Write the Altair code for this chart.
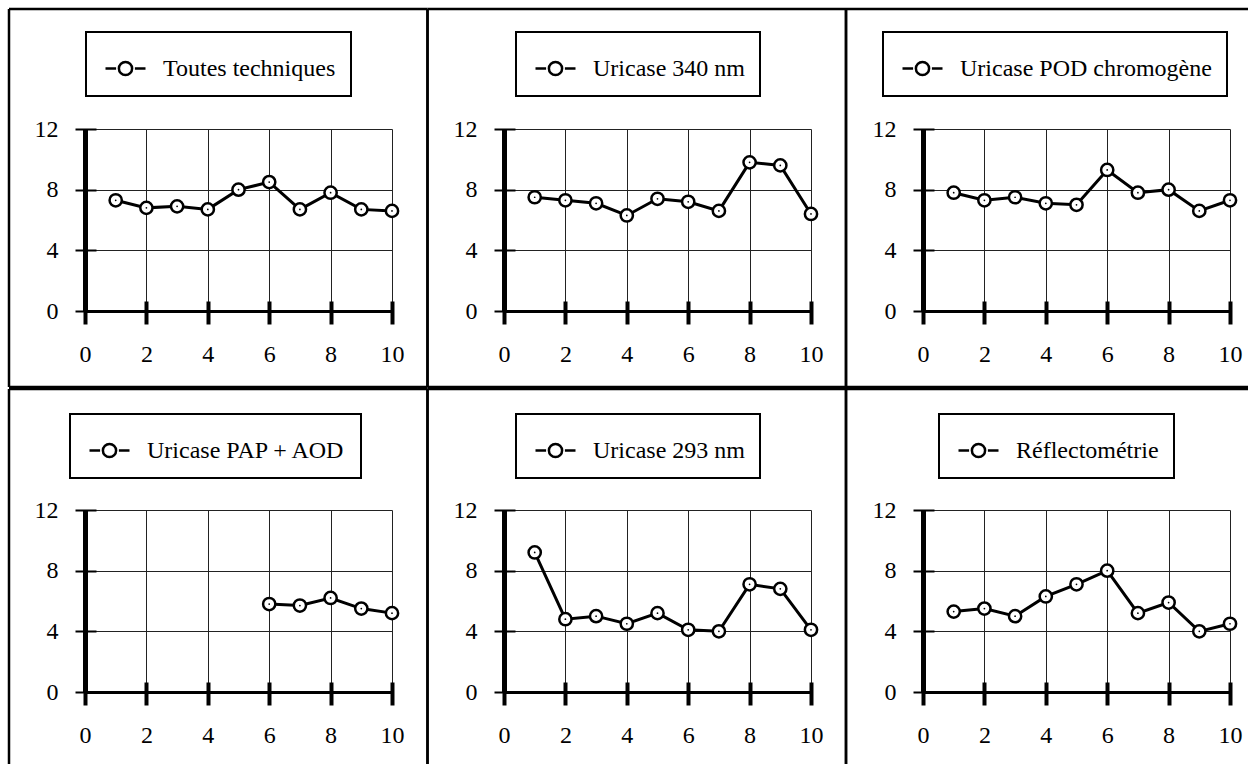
import altair as alt
import pandas as pd

# ---- data ----
x_full = [1, 2, 3, 4, 5, 6, 7, 8, 9, 10]
x_pap = [6, 7, 8, 9, 10]

names = ["Toutes techniques", "Uricase 340 nm", "Uricase POD chromogène",
         "Uricase PAP + AOD", "Uricase 293 nm", "Réflectométrie"]

toutes = [7.3, 6.8, 6.9, 6.7, 8.0, 8.5, 6.7, 7.8, 6.7, 6.6]
u340 = [7.5, 7.3, 7.1, 6.3, 7.4, 7.2, 6.6, 9.8, 9.6, 6.4]
pod = [7.8, 7.3, 7.5, 7.1, 7.0, 9.3, 7.8, 8.0, 6.6, 7.3]
pap = [5.8, 5.7, 6.2, 5.5, 5.2]
u293 = [9.2, 4.8, 5.0, 4.5, 5.2, 4.1, 4.0, 7.1, 6.8, 4.1]
refl = [5.3, 5.5, 5.0, 6.3, 7.1, 8.0, 5.2, 5.9, 4.0, 4.5]

x_ticks = [0, 2, 4, 6, 8, 10]
y_ticks = [0, 4, 8, 12]

FONT = "Liberation Serif"
FS = 24
W, H = 307, 182

LEG_PATH = ("M-1,0L-0.47,0M0.47,0L1,0"
            "M0.33,0A0.33,0.33,0,1,1,-0.33,0A0.33,0.33,0,1,1,0.33,0Z")

ONE = pd.DataFrame({"k": [0]})


def frame_rules(xl, xr, yt, yb, right_edge):
    segs = []
    common = dict(color="black", strokeWidth=2.5)
    segs.append(alt.Chart(ONE).mark_rule(**common).encode(
        x=alt.value(xl), x2=alt.value(xr), y=alt.value(yt)))
    segs.append(alt.Chart(ONE).mark_rule(**common).encode(
        x=alt.value(xl), x2=alt.value(xr), y=alt.value(yb)))
    segs.append(alt.Chart(ONE).mark_rule(**common).encode(
        x=alt.value(xl), y=alt.value(yt), y2=alt.value(yb)))
    if right_edge:
        segs.append(alt.Chart(ONE).mark_rule(**common).encode(
            x=alt.value(xr), y=alt.value(yt), y2=alt.value(yb)))
    return segs


def panel(name, xs, ys, leg_xy, frame):
    df = pd.DataFrame({"x": xs, "y": ys, "series": [name] * len(xs)})
    xsc = alt.Scale(domain=[0, 10], nice=False, zero=False)
    ysc = alt.Scale(domain=[0, 12], nice=False)

    x_main = alt.X("x:Q", scale=xsc, title=None, axis=alt.Axis(
        orient="bottom", values=x_ticks, ticks=False, tickSize=0,
        domain=True, domainColor="black", domainWidth=3,
        grid=True, gridColor="#222", gridWidth=1,
        labelFont=FONT, labelFontSize=FS, labelColor="black",
        labelPadding=31, labelFlush=False, labelOverlap=False))
    y_main = alt.Y("y:Q", scale=ysc, title=None, axis=alt.Axis(
        orient="left", values=y_ticks, ticks=False, tickSize=0,
        domain=True, domainColor="black", domainWidth=5,
        grid=True, gridColor="#222", gridWidth=1,
        labelFont=FONT, labelFontSize=FS, labelColor="black",
        labelPadding=27, labelFlush=False, labelOverlap=False))

    x_tick = alt.X("x:Q", scale=xsc, title=None, axis=alt.Axis(
        orient="bottom", values=x_ticks, offset=-10, tickSize=23,
        tickWidth=4, tickColor="black", domain=False, labels=False,
        grid=False))
    y_tick = alt.Y("y:Q", scale=ysc, title=None, axis=alt.Axis(
        orient="left", values=y_ticks, offset=-11, tickSize=21,
        tickWidth=2, tickColor="black", domain=False, labels=False,
        grid=False))

    line = alt.Chart(df).mark_line(strokeWidth=3).encode(
        x=x_main, y=y_main,
        color=alt.Color("series:N", scale=alt.Scale(range=["black"]),
                        legend=alt.Legend(
                            title=None, orient="none",
                            legendX=leg_xy[0], legendY=leg_xy[1],
                            symbolType=LEG_PATH, symbolSize=1600,
                            symbolStrokeWidth=2.5, symbolStrokeColor="black",
                            symbolFillColor="white", symbolOffset=3,
                            labelFont=FONT, labelFontSize=FS,
                            labelColor="black", labelLimit=500,
                            labelOffset=16, padding=15,
                            strokeColor="black", fillColor="white")))
    pts = alt.Chart(df).mark_point(
        shape="circle", filled=False, fill="white", fillOpacity=1,
        stroke="black", strokeWidth=2.5, size=150, opacity=1
    ).encode(x=x_tick, y=y_tick)
    dots = alt.Chart(df).mark_point(
        shape="circle", filled=True, color="black", size=3, opacity=1
    ).encode(x=alt.X("x:Q", scale=xsc, axis=None),
             y=alt.Y("y:Q", scale=ysc, axis=None))

    layers = frame_rules(*frame) + [line, pts, dots]
    return alt.layer(*layers).resolve_axis(
        x="independent", y="independent"
    ).properties(width=W, height=H)


p1 = panel(names[0], x_full, toutes, (1, -97), (-76, 342.5, -120, 258, True))
p2 = panel(names[1], x_full, u340, (12, -97), (-76.5, 342, -120, 258, True))
p3 = panel(names[2], x_full, pod, (-40, -97), (-77, 325, -120, 258, False))
p4 = panel(names[3], x_pap, pap, (-15, -96), (-76, 342.5, -121, 262, True))
p5 = panel(names[4], x_full, u293, (12, -96), (-76.5, 342, -121, 262, True))
p6 = panel(names[5], x_full, refl, (16, -96), (-77, 325, -121, 262, False))

row1 = alt.hconcat(p1, p2, p3, spacing=112, bounds="flush").resolve_scale(
    color="independent").resolve_legend(color="independent")
row2 = alt.hconcat(p4, p5, p6, spacing=112, bounds="flush").resolve_scale(
    color="independent").resolve_legend(color="independent")

chart = alt.vconcat(row1, row2, spacing=381, bounds="flush").resolve_scale(
    color="independent").resolve_legend(color="independent").properties(
    padding={"left": 7, "top": 7, "right": 0, "bottom": 0},
    background="white"
).configure_view(strokeWidth=0).configure_legend(strokeWidth=2)

chart.save("out.html", embed_options={"renderer": "svg", "actions": False})
